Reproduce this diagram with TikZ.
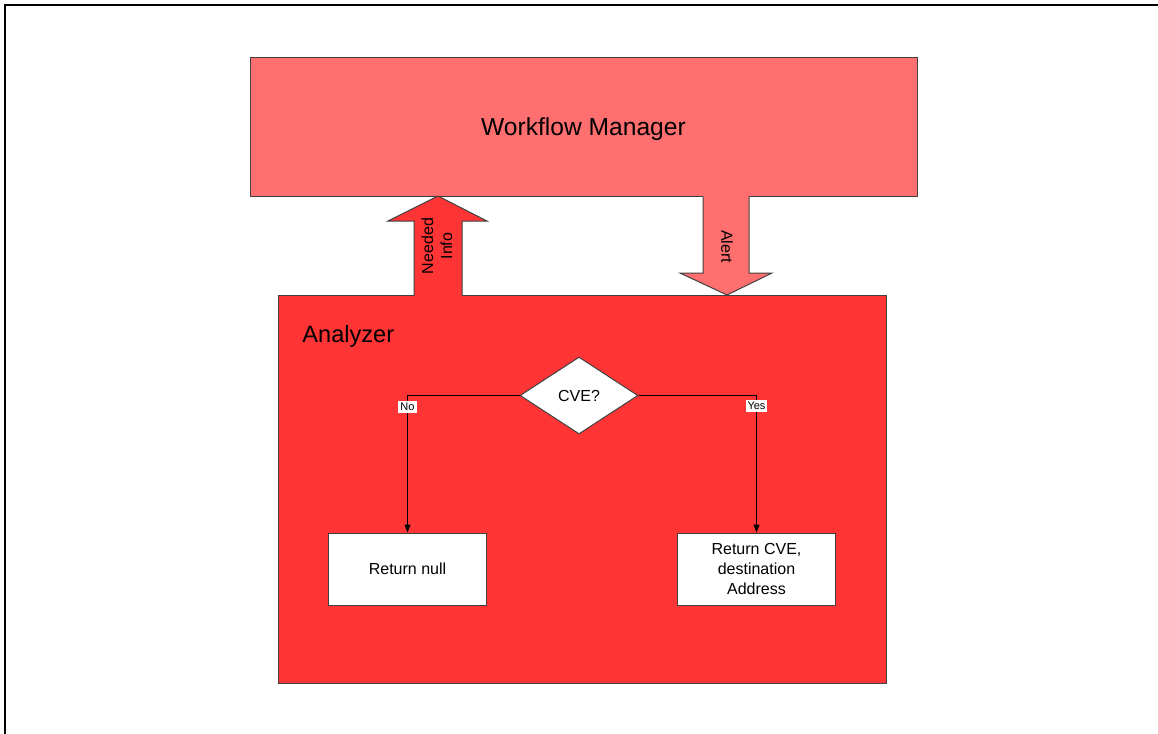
\documentclass[tikz,border=0pt]{standalone}
\usepackage{fontspec}
\setmainfont{Liberation Sans}
\usetikzlibrary{shapes.geometric,arrows.meta}
\definecolor{wmred}{HTML}{FF6F6F}
\definecolor{anred}{HTML}{FF3535}
\begin{document}
\begin{tikzpicture}[x=0.5pt,y=-0.5pt,
    box/.style={draw=black!75, line width=0.5pt, inner sep=0},
    flow/.style={-{Triangle[width=3pt,length=4pt]}, line width=0.5pt},
    tag/.style={fill=white, inner sep=1pt, font=\fontsize{5.5}{6}\selectfont}]
    \def\big{\fontsize{12.3}{14}\selectfont}
    \def\small{\fontsize{8}{10}\selectfont}
    \useasboundingbox (0,0) rectangle (1158,734);
    \draw[line width=1pt] (5,734) -- (5,5) -- (1158,5);
    \node(wm) [box, fill=wmred, minimum width=333.5pt, minimum height=69.5pt, text depth=0pt, font=\big] at (583.5,126.5) {Workflow Manager};
    \node(an) [box, fill=anred, minimum width=304pt, minimum height=194pt] at (582,489) {};
    \node(antitle) [anchor=base west, inner sep=0, font=\fontsize{11.8}{14}\selectfont] at (302,342) {Analyzer};
    % fat arrows between the two blocks
    \fill[anred] (414,297) -- (414,221) -- (388,221) -- (438,196) -- (487,221) -- (462,221) -- (462,297) -- cycle;
    \draw[draw=black!75, line width=0.5pt] (414,295.5) -- (414,221) -- (388,221) -- (438,196) -- (487,221) -- (462,221) -- (462,295.5);
    \node(ni) [rotate=90, align=center, inner sep=0, font=\fontsize{8}{9.5}\selectfont] at (437,246) {Needed\\Info};
    \fill[wmred] (703,194) -- (703,273) -- (680,273) -- (727,295) -- (772,273) -- (749,273) -- (749,194) -- cycle;
    \draw[draw=black!75, line width=0.5pt] (703,196.5) -- (703,273) -- (680,273) -- (727,295) -- (772,273) -- (749,273) -- (749,196.5);
    \node(al) [rotate=-90, inner sep=0, font=\small] at (727,246.5) {Alert};
    % decision
    \node(cve) [diamond, draw=black!75, line width=0.5pt, fill=white, minimum width=59pt, minimum height=38.5pt, inner sep=0, font=\small] at (579,395.5) {CVE?};
    \node(rn) [box, fill=white, minimum width=79pt, minimum height=36pt, font=\small] at (407.5,569) {Return null};
    \node(rc) [box, fill=white, minimum width=79pt, minimum height=36pt, align=center, font=\small] at (756.5,569) {Return CVE,\\destination\\Address};
    \draw[flow] (cve.west) -| (rn.north);
    \draw[flow] (cve.east) -| (rc.north);
    \node(no) [tag] at (407.5,407) {No};
    \node(yes) [tag] at (756.5,406) {Yes};
\end{tikzpicture}
\end{document}
